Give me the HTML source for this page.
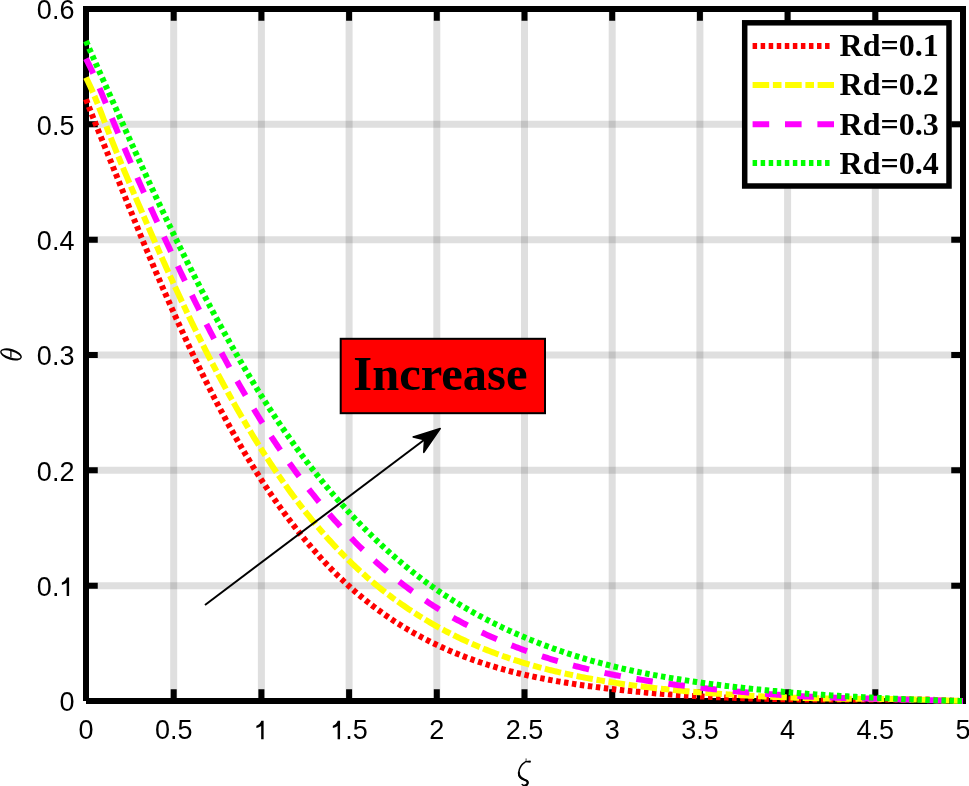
<!DOCTYPE html>
<html><head><meta charset="utf-8"><style>
html,body{margin:0;padding:0;background:#fff;}
svg{display:block;will-change:transform;}
</style></head><body>
<svg width="969" height="786" viewBox="0 0 969 786">
<rect x="0" y="0" width="969" height="786" fill="#fff"/>
<g stroke="rgb(38,38,38)" stroke-opacity="0.15" stroke-width="7"><line x1="173.70" y1="9.0" x2="173.70" y2="701.0"/><line x1="261.40" y1="9.0" x2="261.40" y2="701.0"/><line x1="349.10" y1="9.0" x2="349.10" y2="701.0"/><line x1="436.80" y1="9.0" x2="436.80" y2="701.0"/><line x1="524.50" y1="9.0" x2="524.50" y2="701.0"/><line x1="612.20" y1="9.0" x2="612.20" y2="701.0"/><line x1="699.90" y1="9.0" x2="699.90" y2="701.0"/><line x1="787.60" y1="9.0" x2="787.60" y2="701.0"/><line x1="875.30" y1="9.0" x2="875.30" y2="701.0"/><line x1="86.0" y1="585.67" x2="963.0" y2="585.67"/><line x1="86.0" y1="470.33" x2="963.0" y2="470.33"/><line x1="86.0" y1="355.00" x2="963.0" y2="355.00"/><line x1="86.0" y1="239.67" x2="963.0" y2="239.67"/><line x1="86.0" y1="124.33" x2="963.0" y2="124.33"/></g>
<path d="M86.00,701.0V689.25M86.00,9.0V20.75M173.70,701.0V689.25M173.70,9.0V20.75M261.40,701.0V689.25M261.40,9.0V20.75M349.10,701.0V689.25M349.10,9.0V20.75M436.80,701.0V689.25M436.80,9.0V20.75M524.50,701.0V689.25M524.50,9.0V20.75M612.20,701.0V689.25M612.20,9.0V20.75M699.90,701.0V689.25M699.90,9.0V20.75M787.60,701.0V689.25M787.60,9.0V20.75M875.30,701.0V689.25M875.30,9.0V20.75M963.00,701.0V689.25M963.00,9.0V20.75M86.0,701.00H97.75M963.0,701.00H951.25M86.0,585.67H97.75M963.0,585.67H951.25M86.0,470.33H97.75M963.0,470.33H951.25M86.0,355.00H97.75M963.0,355.00H951.25M86.0,239.67H97.75M963.0,239.67H951.25M86.0,124.33H97.75M963.0,124.33H951.25M86.0,9.00H97.75M963.0,9.00H951.25" stroke="#000" stroke-width="6" stroke-linecap="butt" fill="none"/>
<path d="M86.0,701.0H963.0V9.0H86.0V701.0" fill="none" stroke="#000" stroke-width="6" stroke-linejoin="miter" stroke-linecap="butt"/>
<g font-family="Liberation Sans" font-size="27" fill="#000"><text x="78.49" y="739.30">0</text><text x="154.93" y="739.30">0.5</text><text x="345.35" y="739.30">.5</text><text x="429.29" y="739.30">2</text><text x="505.73" y="739.30">2.5</text><text x="604.69" y="739.30">3</text><text x="681.13" y="739.30">3.5</text><text x="780.09" y="739.30">4</text><text x="856.53" y="739.30">4.5</text><text x="955.49" y="739.30">5</text><text x="59.38" y="711.40">0</text><text x="36.87" y="596.07">0.</text><text x="36.87" y="480.73">0.2</text><text x="36.87" y="365.40">0.3</text><text x="36.87" y="250.07">0.4</text><text x="36.87" y="134.73">0.5</text><text x="36.87" y="19.40">0.6</text></g>
<path d="M263.62,720.72L263.62,739.30L261.17,739.30L261.17,726.02Q259.19,727.62 256.39,728.12L256.39,725.82Q259.79,724.72 261.37,720.72ZM340.06,720.72L340.06,739.30L337.61,739.30L337.61,726.02Q335.63,727.62 332.83,728.12L332.83,725.82Q336.23,724.72 337.81,720.72ZM69.11,577.49L69.11,596.07L66.66,596.07L66.66,582.79Q64.68,584.39 61.88,584.89L61.88,582.59Q65.28,581.49 66.86,577.49Z" fill="#000"/>
<g fill="none" stroke="#000" stroke-linecap="round"><path d="M525.8,761.6 C522.6,763.4 519.3,767.3 518.8,772.3 C518.4,776.4 520.6,778.6 524.5,779.7 C527.2,780.5 528,782 527.6,783.4 C527.1,784.9 525.4,785.9 523.4,785.4 L522.2,784.5" stroke-width="1.5"/><path d="M518.9,772.5 C518.6,776.2 520.3,778.2 524.5,779.7 C527.2,780.5 528,782 527.6,783.4 C527.2,784.6 526.2,785.4 525.2,785.6" stroke-width="2.1"/><path d="M526.1,758.8 L526.1,760.4" stroke-width="1.1" stroke="#555"/></g><path d="M525.9,760.9 L530.4,760.6 Q531.5,761.7 530.4,762.7 L525.9,762.2 Z" fill="#000"/>
<path d="M-0.20,354.4A11.2,5.45 0 1,0 22.20,354.4A11.2,5.45 0 1,0 -0.20,354.4ZM1.10,354.4A9.9,3.0 0 1,0 20.90,354.4A9.9,3.0 0 1,0 1.10,354.4Z" fill="#000" fill-rule="evenodd" transform="rotate(17 11.0 354.4)"/><path d="M10.9,350.4V357.3" stroke="#000" stroke-width="1.3"/>
<polyline points="86.00,99.20 87.75,103.80 89.51,108.35 91.26,112.85 93.02,117.31 94.77,121.74 96.52,126.14 98.28,130.51 100.03,134.87 101.79,139.21 103.54,143.54 105.29,147.87 107.05,152.19 108.80,156.53 110.56,160.87 112.31,165.22 114.06,169.58 115.82,173.94 117.57,178.31 119.33,182.69 121.08,187.06 122.83,191.44 124.59,195.81 126.34,200.18 128.10,204.54 129.85,208.89 131.60,213.24 133.36,217.57 135.11,221.89 136.87,226.20 138.62,230.50 140.37,234.77 142.13,239.03 143.88,243.27 145.64,247.50 147.39,251.71 149.14,255.90 150.90,260.07 152.65,264.22 154.41,268.35 156.16,272.47 157.91,276.57 159.67,280.65 161.42,284.71 163.18,288.76 164.93,292.79 166.68,296.79 168.44,300.78 170.19,304.75 171.95,308.70 173.70,312.63 175.45,316.55 177.21,320.44 178.96,324.32 180.72,328.17 182.47,332.01 184.22,335.83 185.98,339.62 187.73,343.40 189.49,347.15 191.24,350.89 192.99,354.60 194.75,358.29 196.50,361.95 198.26,365.60 200.01,369.21 201.76,372.81 203.52,376.38 205.27,379.93 207.03,383.46 208.78,386.96 210.53,390.43 212.29,393.88 214.04,397.30 215.80,400.70 217.55,404.07 219.30,407.42 221.06,410.74 222.81,414.04 224.57,417.30 226.32,420.55 228.07,423.76 229.83,426.95 231.58,430.11 233.34,433.25 235.09,436.35 236.84,439.44 238.60,442.49 240.35,445.52 242.11,448.52 243.86,451.50 245.61,454.45 247.37,457.37 249.12,460.27 250.88,463.15 252.63,465.99 254.38,468.81 256.14,471.61 257.89,474.38 259.65,477.13 261.40,479.85 263.15,482.54 264.91,485.21 266.66,487.86 268.42,490.48 270.17,493.08 271.92,495.65 273.68,498.20 275.43,500.72 277.19,503.22 278.94,505.69 280.69,508.15 282.45,510.57 284.20,512.98 285.96,515.36 287.71,517.72 289.46,520.05 291.22,522.36 292.97,524.65 294.73,526.92 296.48,529.16 298.23,531.38 299.99,533.58 301.74,535.75 303.50,537.90 305.25,540.03 307.00,542.14 308.76,544.22 310.51,546.29 312.27,548.33 314.02,550.34 315.77,552.34 317.53,554.31 319.28,556.26 321.04,558.19 322.79,560.10 324.54,561.99 326.30,563.85 328.05,565.70 329.81,567.52 331.56,569.32 333.31,571.10 335.07,572.86 336.82,574.60 338.58,576.32 340.33,578.01 342.08,579.69 343.84,581.35 345.59,582.99 347.35,584.60 349.10,586.20 350.85,587.78 352.61,589.34 354.36,590.88 356.12,592.40 357.87,593.90 359.62,595.38 361.38,596.85 363.13,598.29 364.89,599.72 366.64,601.13 368.39,602.52 370.15,603.90 371.90,605.25 373.66,606.59 375.41,607.91 377.16,609.22 378.92,610.51 380.67,611.78 382.43,613.04 384.18,614.28 385.93,615.50 387.69,616.71 389.44,617.90 391.20,619.08 392.95,620.24 394.70,621.39 396.46,622.52 398.21,623.64 399.97,624.75 401.72,625.84 403.47,626.91 405.23,627.97 406.98,629.02 408.74,630.05 410.49,631.08 412.24,632.08 414.00,633.08 415.75,634.06 417.51,635.03 419.26,635.98 421.01,636.93 422.77,637.86 424.52,638.78 426.28,639.68 428.03,640.58 429.78,641.46 431.54,642.33 433.29,643.19 435.05,644.04 436.80,644.88 438.55,645.70 440.31,646.52 442.06,647.32 443.82,648.12 445.57,648.90 447.32,649.67 449.08,650.43 450.83,651.18 452.59,651.92 454.34,652.66 456.09,653.38 457.85,654.09 459.60,654.79 461.36,655.48 463.11,656.16 464.86,656.83 466.62,657.50 468.37,658.15 470.13,658.79 471.88,659.43 473.63,660.05 475.39,660.67 477.14,661.28 478.90,661.88 480.65,662.47 482.40,663.05 484.16,663.62 485.91,664.19 487.67,664.75 489.42,665.30 491.17,665.84 492.93,666.37 494.68,666.89 496.44,667.41 498.19,667.92 499.94,668.42 501.70,668.92 503.45,669.40 505.21,669.88 506.96,670.35 508.71,670.82 510.47,671.28 512.22,671.73 513.98,672.17 515.73,672.61 517.48,673.04 519.24,673.46 520.99,673.88 522.75,674.29 524.50,674.70 526.25,675.10 528.01,675.49 529.76,675.88 531.52,676.26 533.27,676.63 535.02,677.00 536.78,677.36 538.53,677.72 540.29,678.07 542.04,678.42 543.79,678.76 545.55,679.10 547.30,679.43 549.06,679.76 550.81,680.08 552.56,680.40 554.32,680.71 556.07,681.02 557.83,681.33 559.58,681.63 561.33,681.92 563.09,682.22 564.84,682.50 566.60,682.79 568.35,683.07 570.10,683.35 571.86,683.62 573.61,683.89 575.37,684.16 577.12,684.42 578.87,684.68 580.63,684.93 582.38,685.19 584.14,685.44 585.89,685.68 587.64,685.93 589.40,686.17 591.15,686.40 592.91,686.64 594.66,686.87 596.41,687.10 598.17,687.32 599.92,687.55 601.68,687.77 603.43,687.98 605.18,688.20 606.94,688.41 608.69,688.62 610.45,688.83 612.20,689.03 613.95,689.23 615.71,689.43 617.46,689.63 619.22,689.83 620.97,690.02 622.72,690.21 624.48,690.40 626.23,690.58 627.99,690.77 629.74,690.95 631.49,691.13 633.25,691.30 635.00,691.48 636.76,691.65 638.51,691.82 640.26,691.99 642.02,692.16 643.77,692.32 645.53,692.48 647.28,692.64 649.03,692.80 650.79,692.95 652.54,693.10 654.30,693.25 656.05,693.40 657.80,693.54 659.56,693.69 661.31,693.83 663.07,693.97 664.82,694.10 666.57,694.24 668.33,694.37 670.08,694.50 671.84,694.63 673.59,694.75 675.34,694.87 677.10,695.00 678.85,695.11 680.61,695.23 682.36,695.35 684.11,695.46 685.87,695.57 687.62,695.68 689.38,695.78 691.13,695.89 692.88,695.99 694.64,696.09 696.39,696.19 698.15,696.29 699.90,696.38 701.65,696.48 703.41,696.57 705.16,696.66 706.92,696.75 708.67,696.83 710.42,696.92 712.18,697.00 713.93,697.08 715.69,697.16 717.44,697.24 719.19,697.31 720.95,697.39 722.70,697.46 724.46,697.53 726.21,697.60 727.96,697.67 729.72,697.74 731.47,697.81 733.23,697.87 734.98,697.93 736.73,698.00 738.49,698.06 740.24,698.12 742.00,698.17 743.75,698.23 745.50,698.28 747.26,698.34 749.01,698.39 750.77,698.44 752.52,698.49 754.27,698.54 756.03,698.59 757.78,698.64 759.54,698.68 761.29,698.72 763.04,698.77 764.80,698.81 766.55,698.85 768.31,698.89 770.06,698.93 771.81,698.96 773.57,699.00 775.32,699.03 777.08,699.07 778.83,699.10 780.58,699.13 782.34,699.16 784.09,699.19 785.85,699.21 787.60,699.24 789.35,699.27 791.11,699.29 792.86,699.31 794.62,699.33 796.37,699.36 798.12,699.38 799.88,699.39 801.63,699.41 803.39,699.43 805.14,699.44 806.89,699.46 808.65,699.47 810.40,699.48 812.16,699.50 813.91,699.51 815.66,699.52 817.42,699.52 819.17,699.53 820.93,699.54 822.68,699.54 824.43,699.55 826.19,699.55 827.94,699.55 829.70,699.55 831.45,699.55 833.20,699.55 834.96,699.55 836.71,699.55 838.47,699.55 840.22,699.55 841.97,699.55 843.73,699.55 845.48,699.55 847.24,699.55 848.99,699.55 850.74,699.55 852.50,699.55 854.25,699.55 856.01,699.55 857.76,699.55 859.51,699.55 861.27,699.55 863.02,699.55 864.78,699.55 866.53,699.55 868.28,699.55 870.04,699.55 871.79,699.55 873.55,699.55 875.30,699.55 877.05,699.55 878.81,699.55 880.56,699.55 882.32,699.55 884.07,699.55 885.82,699.55 887.58,699.55 889.33,699.55 891.09,699.55 892.84,699.55 894.59,699.55 896.35,699.55 898.10,699.55 899.86,699.55 901.61,699.55 903.36,699.55 905.12,699.55 906.87,699.55 908.63,699.55 910.38,699.55 912.13,699.55 913.89,699.55 915.64,699.55 917.40,699.55 919.15,699.55 920.90,699.55 922.66,699.55 924.41,699.55 926.17,699.55 927.92,699.59 929.67,699.66 931.43,699.73 933.18,699.80 934.94,699.88 936.69,699.95 938.44,700.03 940.20,700.11 941.95,700.19 943.71,700.26 945.46,700.34 947.21,700.42 948.97,700.49 950.72,700.56 952.48,700.63 954.23,700.70 955.98,700.77 957.74,700.83 959.49,700.89 961.25,700.95 963.00,701.00" fill="none" stroke="#ff0000" stroke-width="6" stroke-dasharray="4.5 3.55" stroke-linecap="butt" stroke-linejoin="round"/>
<polyline points="86.00,77.52 87.75,81.01 89.51,84.71 91.26,88.59 93.02,92.63 94.77,96.80 96.52,101.08 98.28,105.46 100.03,109.92 101.79,114.42 103.54,118.96 105.29,123.51 107.05,128.06 108.80,132.59 110.56,137.09 112.31,141.53 114.06,145.93 115.82,150.28 117.57,154.60 119.33,158.88 121.08,163.13 122.83,167.35 124.59,171.54 126.34,175.71 128.10,179.86 129.85,183.99 131.60,188.10 133.36,192.19 135.11,196.28 136.87,200.35 138.62,204.42 140.37,208.49 142.13,212.55 143.88,216.60 145.64,220.65 147.39,224.69 149.14,228.72 150.90,232.75 152.65,236.77 154.41,240.77 156.16,244.77 157.91,248.75 159.67,252.72 161.42,256.68 163.18,260.62 164.93,264.55 166.68,268.46 168.44,272.36 170.19,276.24 171.95,280.10 173.70,283.94 175.45,287.77 177.21,291.57 178.96,295.36 180.72,299.13 182.47,302.87 184.22,306.59 185.98,310.30 187.73,313.98 189.49,317.64 191.24,321.28 192.99,324.90 194.75,328.50 196.50,332.08 198.26,335.63 200.01,339.17 201.76,342.68 203.52,346.17 205.27,349.64 207.03,353.09 208.78,356.52 210.53,359.93 212.29,363.31 214.04,366.68 215.80,370.02 217.55,373.34 219.30,376.64 221.06,379.92 222.81,383.17 224.57,386.41 226.32,389.62 228.07,392.81 229.83,395.98 231.58,399.13 233.34,402.26 235.09,405.36 236.84,408.44 238.60,411.51 240.35,414.55 242.11,417.56 243.86,420.56 245.61,423.53 247.37,426.48 249.12,429.41 250.88,432.32 252.63,435.21 254.38,438.07 256.14,440.91 257.89,443.73 259.65,446.53 261.40,449.30 263.15,452.06 264.91,454.79 266.66,457.50 268.42,460.18 270.17,462.85 271.92,465.49 273.68,468.11 275.43,470.71 277.19,473.29 278.94,475.84 280.69,478.38 282.45,480.89 284.20,483.38 285.96,485.85 287.71,488.29 289.46,490.72 291.22,493.12 292.97,495.50 294.73,497.86 296.48,500.20 298.23,502.52 299.99,504.81 301.74,507.09 303.50,509.34 305.25,511.57 307.00,513.78 308.76,515.97 310.51,518.14 312.27,520.29 314.02,522.42 315.77,524.52 317.53,526.61 319.28,528.67 321.04,530.71 322.79,532.74 324.54,534.74 326.30,536.72 328.05,538.68 329.81,540.62 331.56,542.55 333.31,544.45 335.07,546.33 336.82,548.19 338.58,550.03 340.33,551.85 342.08,553.65 343.84,555.44 345.59,557.20 347.35,558.95 349.10,560.67 350.85,562.38 352.61,564.07 354.36,565.74 356.12,567.39 357.87,569.02 359.62,570.63 361.38,572.23 363.13,573.80 364.89,575.36 366.64,576.91 368.39,578.43 370.15,579.94 371.90,581.43 373.66,582.90 375.41,584.36 377.16,585.80 378.92,587.23 380.67,588.64 382.43,590.03 384.18,591.41 385.93,592.77 387.69,594.12 389.44,595.45 391.20,596.77 392.95,598.07 394.70,599.36 396.46,600.63 398.21,601.89 399.97,603.13 401.72,604.36 403.47,605.58 405.23,606.79 406.98,607.98 408.74,609.15 410.49,610.32 412.24,611.47 414.00,612.61 415.75,613.73 417.51,614.84 419.26,615.95 421.01,617.03 422.77,618.11 424.52,619.17 426.28,620.22 428.03,621.27 429.78,622.29 431.54,623.31 433.29,624.32 435.05,625.31 436.80,626.29 438.55,627.27 440.31,628.23 442.06,629.18 443.82,630.12 445.57,631.05 447.32,631.97 449.08,632.87 450.83,633.77 452.59,634.66 454.34,635.54 456.09,636.40 457.85,637.26 459.60,638.11 461.36,638.94 463.11,639.77 464.86,640.59 466.62,641.39 468.37,642.19 470.13,642.98 471.88,643.76 473.63,644.53 475.39,645.28 477.14,646.04 478.90,646.78 480.65,647.51 482.40,648.23 484.16,648.95 485.91,649.65 487.67,650.35 489.42,651.03 491.17,651.71 492.93,652.38 494.68,653.05 496.44,653.70 498.19,654.35 499.94,654.98 501.70,655.61 503.45,656.23 505.21,656.85 506.96,657.45 508.71,658.05 510.47,658.64 512.22,659.22 513.98,659.80 515.73,660.36 517.48,660.92 519.24,661.47 520.99,662.02 522.75,662.56 524.50,663.09 526.25,663.61 528.01,664.13 529.76,664.64 531.52,665.14 533.27,665.64 535.02,666.13 536.78,666.61 538.53,667.09 540.29,667.56 542.04,668.02 543.79,668.48 545.55,668.93 547.30,669.38 549.06,669.82 550.81,670.25 552.56,670.68 554.32,671.10 556.07,671.52 557.83,671.93 559.58,672.34 561.33,672.74 563.09,673.14 564.84,673.53 566.60,673.91 568.35,674.29 570.10,674.67 571.86,675.04 573.61,675.41 575.37,675.77 577.12,676.12 578.87,676.47 580.63,676.82 582.38,677.16 584.14,677.50 585.89,677.83 587.64,678.16 589.40,678.49 591.15,678.81 592.91,679.13 594.66,679.44 596.41,679.75 598.17,680.05 599.92,680.35 601.68,680.65 603.43,680.94 605.18,681.23 606.94,681.51 608.69,681.79 610.45,682.07 612.20,682.35 613.95,682.62 615.71,682.88 617.46,683.15 619.22,683.41 620.97,683.66 622.72,683.92 624.48,684.17 626.23,684.41 627.99,684.66 629.74,684.90 631.49,685.13 633.25,685.37 635.00,685.60 636.76,685.83 638.51,686.05 640.26,686.27 642.02,686.49 643.77,686.71 645.53,686.92 647.28,687.13 649.03,687.34 650.79,687.55 652.54,687.75 654.30,687.95 656.05,688.15 657.80,688.34 659.56,688.53 661.31,688.72 663.07,688.91 664.82,689.10 666.57,689.28 668.33,689.46 670.08,689.64 671.84,689.81 673.59,689.99 675.34,690.16 677.10,690.33 678.85,690.50 680.61,690.66 682.36,690.82 684.11,690.99 685.87,691.14 687.62,691.30 689.38,691.46 691.13,691.61 692.88,691.76 694.64,691.91 696.39,692.05 698.15,692.20 699.90,692.34 701.65,692.48 703.41,692.62 705.16,692.76 706.92,692.90 708.67,693.03 710.42,693.16 712.18,693.30 713.93,693.42 715.69,693.55 717.44,693.68 719.19,693.80 720.95,693.92 722.70,694.04 724.46,694.16 726.21,694.28 727.96,694.40 729.72,694.51 731.47,694.63 733.23,694.74 734.98,694.85 736.73,694.96 738.49,695.06 740.24,695.17 742.00,695.27 743.75,695.38 745.50,695.48 747.26,695.58 749.01,695.68 750.77,695.77 752.52,695.87 754.27,695.96 756.03,696.06 757.78,696.15 759.54,696.23 761.29,696.32 763.04,696.41 764.80,696.49 766.55,696.57 768.31,696.65 770.06,696.73 771.81,696.81 773.57,696.89 775.32,696.96 777.08,697.03 778.83,697.10 780.58,697.17 782.34,697.24 784.09,697.31 785.85,697.37 787.60,697.43 789.35,697.50 791.11,697.56 792.86,697.61 794.62,697.67 796.37,697.73 798.12,697.78 799.88,697.83 801.63,697.88 803.39,697.93 805.14,697.98 806.89,698.03 808.65,698.07 810.40,698.11 812.16,698.16 813.91,698.20 815.66,698.24 817.42,698.27 819.17,698.31 820.93,698.35 822.68,698.38 824.43,698.41 826.19,698.44 827.94,698.47 829.70,698.50 831.45,698.53 833.20,698.56 834.96,698.58 836.71,698.61 838.47,698.63 840.22,698.65 841.97,698.67 843.73,698.69 845.48,698.71 847.24,698.72 848.99,698.74 850.74,698.75 852.50,698.76 854.25,698.78 856.01,698.79 857.76,698.80 859.51,698.81 861.27,698.82 863.02,698.83 864.78,698.83 866.53,698.84 868.28,698.85 870.04,698.86 871.79,698.87 873.55,698.88 875.30,698.89 877.05,698.90 878.81,698.91 880.56,698.93 882.32,698.94 884.07,698.96 885.82,698.97 887.58,698.99 889.33,699.01 891.09,699.03 892.84,699.06 894.59,699.08 896.35,699.11 898.10,699.14 899.86,699.17 901.61,699.20 903.36,699.24 905.12,699.27 906.87,699.31 908.63,699.35 910.38,699.39 912.13,699.44 913.89,699.48 915.64,699.53 917.40,699.58 919.15,699.63 920.90,699.68 922.66,699.74 924.41,699.79 926.17,699.85 927.92,699.91 929.67,699.97 931.43,700.02 933.18,700.08 934.94,700.14 936.69,700.20 938.44,700.26 940.20,700.32 941.95,700.38 943.71,700.44 945.46,700.50 947.21,700.55 948.97,700.61 950.72,700.66 952.48,700.72 954.23,700.77 955.98,700.82 957.74,700.87 959.49,700.91 961.25,700.96 963.00,701.00" fill="none" stroke="#ffff00" stroke-width="6" stroke-dasharray="16.6 3.7 8.6 3.6" stroke-linecap="butt" stroke-linejoin="round"/>
<polyline points="86.00,58.65 87.75,62.05 89.51,65.60 91.26,69.29 93.02,73.11 94.77,77.04 96.52,81.07 98.28,85.17 100.03,89.34 101.79,93.56 103.54,97.81 105.29,102.09 107.05,106.39 108.80,110.68 110.56,114.95 112.31,119.20 114.06,123.43 115.82,127.64 117.57,131.83 119.33,136.00 121.08,140.15 122.83,144.28 124.59,148.40 126.34,152.49 128.10,156.57 129.85,160.63 131.60,164.67 133.36,168.70 135.11,172.71 136.87,176.71 138.62,180.69 140.37,184.66 142.13,188.62 143.88,192.56 145.64,196.49 147.39,200.40 149.14,204.30 150.90,208.19 152.65,212.06 154.41,215.92 156.16,219.77 157.91,223.60 159.67,227.42 161.42,231.23 163.18,235.02 164.93,238.80 166.68,242.56 168.44,246.32 170.19,250.06 171.95,253.78 173.70,257.50 175.45,261.20 177.21,264.88 178.96,268.56 180.72,272.22 182.47,275.86 184.22,279.49 185.98,283.11 187.73,286.72 189.49,290.30 191.24,293.88 192.99,297.43 194.75,300.98 196.50,304.50 198.26,308.01 200.01,311.50 201.76,314.97 203.52,318.43 205.27,321.87 207.03,325.29 208.78,328.69 210.53,332.07 212.29,335.43 214.04,338.78 215.80,342.10 217.55,345.41 219.30,348.69 221.06,351.96 222.81,355.21 224.57,358.43 226.32,361.63 228.07,364.82 229.83,367.98 231.58,371.12 233.34,374.24 235.09,377.34 236.84,380.42 238.60,383.48 240.35,386.51 242.11,389.53 243.86,392.52 245.61,395.50 247.37,398.45 249.12,401.38 250.88,404.29 252.63,407.18 254.38,410.05 256.14,412.90 257.89,415.73 259.65,418.54 261.40,421.33 263.15,424.09 264.91,426.84 266.66,429.57 268.42,432.27 270.17,434.96 271.92,437.62 273.68,440.27 275.43,442.90 277.19,445.50 278.94,448.09 280.69,450.65 282.45,453.20 284.20,455.73 285.96,458.23 287.71,460.72 289.46,463.19 291.22,465.63 292.97,468.06 294.73,470.47 296.48,472.86 298.23,475.23 299.99,477.58 301.74,479.92 303.50,482.23 305.25,484.52 307.00,486.80 308.76,489.05 310.51,491.29 312.27,493.51 314.02,495.71 315.77,497.89 317.53,500.05 319.28,502.19 321.04,504.32 322.79,506.42 324.54,508.51 326.30,510.58 328.05,512.63 329.81,514.66 331.56,516.68 333.31,518.67 335.07,520.65 336.82,522.61 338.58,524.55 340.33,526.48 342.08,528.39 343.84,530.28 345.59,532.15 347.35,534.00 349.10,535.84 350.85,537.66 352.61,539.46 354.36,541.25 356.12,543.02 357.87,544.77 359.62,546.51 361.38,548.23 363.13,549.93 364.89,551.62 366.64,553.29 368.39,554.94 370.15,556.58 371.90,558.20 373.66,559.80 375.41,561.39 377.16,562.97 378.92,564.53 380.67,566.07 382.43,567.60 384.18,569.11 385.93,570.61 387.69,572.09 389.44,573.56 391.20,575.01 392.95,576.45 394.70,577.87 396.46,579.28 398.21,580.67 399.97,582.05 401.72,583.42 403.47,584.77 405.23,586.10 406.98,587.43 408.74,588.74 410.49,590.03 412.24,591.32 414.00,592.58 415.75,593.84 417.51,595.08 419.26,596.31 421.01,597.53 422.77,598.73 424.52,599.92 426.28,601.10 428.03,602.26 429.78,603.42 431.54,604.56 433.29,605.68 435.05,606.80 436.80,607.90 438.55,608.99 440.31,610.07 442.06,611.14 443.82,612.20 445.57,613.24 447.32,614.28 449.08,615.30 450.83,616.31 452.59,617.31 454.34,618.30 456.09,619.28 457.85,620.25 459.60,621.20 461.36,622.15 463.11,623.09 464.86,624.01 466.62,624.93 468.37,625.84 470.13,626.73 471.88,627.62 473.63,628.50 475.39,629.37 477.14,630.23 478.90,631.08 480.65,631.92 482.40,632.75 484.16,633.57 485.91,634.38 487.67,635.19 489.42,635.98 491.17,636.77 492.93,637.55 494.68,638.32 496.44,639.09 498.19,639.84 499.94,640.59 501.70,641.32 503.45,642.05 505.21,642.78 506.96,643.49 508.71,644.20 510.47,644.90 512.22,645.59 513.98,646.27 515.73,646.95 517.48,647.62 519.24,648.28 520.99,648.94 522.75,649.59 524.50,650.23 526.25,650.86 528.01,651.49 529.76,652.11 531.52,652.73 533.27,653.33 535.02,653.94 536.78,654.53 538.53,655.12 540.29,655.70 542.04,656.27 543.79,656.84 545.55,657.40 547.30,657.96 549.06,658.51 550.81,659.05 552.56,659.59 554.32,660.12 556.07,660.65 557.83,661.16 559.58,661.68 561.33,662.18 563.09,662.69 564.84,663.18 566.60,663.67 568.35,664.15 570.10,664.63 571.86,665.10 573.61,665.57 575.37,666.03 577.12,666.48 578.87,666.93 580.63,667.38 582.38,667.82 584.14,668.25 585.89,668.68 587.64,669.10 589.40,669.52 591.15,669.93 592.91,670.34 594.66,670.74 596.41,671.14 598.17,671.53 599.92,671.92 601.68,672.30 603.43,672.68 605.18,673.06 606.94,673.42 608.69,673.79 610.45,674.15 612.20,674.50 613.95,674.85 615.71,675.20 617.46,675.54 619.22,675.87 620.97,676.21 622.72,676.54 624.48,676.86 626.23,677.18 627.99,677.49 629.74,677.81 631.49,678.11 633.25,678.42 635.00,678.72 636.76,679.01 638.51,679.30 640.26,679.59 642.02,679.88 643.77,680.16 645.53,680.44 647.28,680.71 649.03,680.98 650.79,681.25 652.54,681.51 654.30,681.78 656.05,682.03 657.80,682.29 659.56,682.54 661.31,682.79 663.07,683.04 664.82,683.29 666.57,683.53 668.33,683.77 670.08,684.01 671.84,684.24 673.59,684.47 675.34,684.70 677.10,684.93 678.85,685.15 680.61,685.38 682.36,685.60 684.11,685.81 685.87,686.03 687.62,686.24 689.38,686.46 691.13,686.66 692.88,686.87 694.64,687.08 696.39,687.28 698.15,687.48 699.90,687.68 701.65,687.88 703.41,688.08 705.16,688.27 706.92,688.46 708.67,688.65 710.42,688.84 712.18,689.03 713.93,689.21 715.69,689.39 717.44,689.58 719.19,689.76 720.95,689.93 722.70,690.11 724.46,690.28 726.21,690.46 727.96,690.63 729.72,690.80 731.47,690.97 733.23,691.13 734.98,691.30 736.73,691.46 738.49,691.62 740.24,691.78 742.00,691.94 743.75,692.10 745.50,692.25 747.26,692.40 749.01,692.56 750.77,692.71 752.52,692.85 754.27,693.00 756.03,693.14 757.78,693.29 759.54,693.43 761.29,693.57 763.04,693.70 764.80,693.84 766.55,693.97 768.31,694.10 770.06,694.23 771.81,694.36 773.57,694.48 775.32,694.60 777.08,694.72 778.83,694.84 780.58,694.96 782.34,695.08 784.09,695.19 785.85,695.30 787.60,695.41 789.35,695.51 791.11,695.62 792.86,695.72 794.62,695.82 796.37,695.92 798.12,696.02 799.88,696.11 801.63,696.21 803.39,696.30 805.14,696.39 806.89,696.48 808.65,696.56 810.40,696.65 812.16,696.73 813.91,696.81 815.66,696.89 817.42,696.97 819.17,697.04 820.93,697.12 822.68,697.19 824.43,697.26 826.19,697.33 827.94,697.40 829.70,697.47 831.45,697.53 833.20,697.59 834.96,697.66 836.71,697.72 838.47,697.78 840.22,697.83 841.97,697.89 843.73,697.94 845.48,698.00 847.24,698.05 848.99,698.10 850.74,698.15 852.50,698.20 854.25,698.25 856.01,698.29 857.76,698.34 859.51,698.38 861.27,698.43 863.02,698.47 864.78,698.51 866.53,698.56 868.28,698.60 870.04,698.64 871.79,698.68 873.55,698.72 875.30,698.77 877.05,698.81 878.81,698.85 880.56,698.89 882.32,698.94 884.07,698.98 885.82,699.02 887.58,699.06 889.33,699.11 891.09,699.15 892.84,699.20 894.59,699.24 896.35,699.29 898.10,699.33 899.86,699.38 901.61,699.43 903.36,699.47 905.12,699.52 906.87,699.57 908.63,699.62 910.38,699.66 912.13,699.71 913.89,699.76 915.64,699.81 917.40,699.86 919.15,699.91 920.90,699.96 922.66,700.01 924.41,700.06 926.17,700.11 927.92,700.16 929.67,700.20 931.43,700.25 933.18,700.30 934.94,700.35 936.69,700.39 938.44,700.44 940.20,700.49 941.95,700.53 943.71,700.58 945.46,700.62 947.21,700.66 948.97,700.70 950.72,700.75 952.48,700.79 954.23,700.82 955.98,700.86 957.74,700.90 959.49,700.93 961.25,700.97 963.00,701.00" fill="none" stroke="#ff00ff" stroke-width="6" stroke-dasharray="16.6 15.8" stroke-linecap="butt" stroke-linejoin="round"/>
<polyline points="86.00,40.99 87.75,45.05 89.51,49.09 91.26,53.11 93.02,57.12 94.77,61.10 96.52,65.07 98.28,69.03 100.03,72.98 101.79,76.92 103.54,80.85 105.29,84.78 107.05,88.71 108.80,92.64 110.56,96.56 112.31,100.50 114.06,104.43 115.82,108.36 117.57,112.30 119.33,116.23 121.08,120.16 122.83,124.09 124.59,128.01 126.34,131.93 128.10,135.85 129.85,139.76 131.60,143.67 133.36,147.56 135.11,151.45 136.87,155.34 138.62,159.21 140.37,163.07 142.13,166.93 143.88,170.77 145.64,174.61 147.39,178.43 149.14,182.24 150.90,186.04 152.65,189.83 154.41,193.61 156.16,197.37 157.91,201.13 159.67,204.87 161.42,208.60 163.18,212.31 164.93,216.02 166.68,219.71 168.44,223.39 170.19,227.05 171.95,230.70 173.70,234.34 175.45,237.96 177.21,241.57 178.96,245.17 180.72,248.75 182.47,252.31 184.22,255.86 185.98,259.40 187.73,262.92 189.49,266.43 191.24,269.92 192.99,273.40 194.75,276.86 196.50,280.30 198.26,283.73 200.01,287.14 201.76,290.54 203.52,293.92 205.27,297.29 207.03,300.64 208.78,303.97 210.53,307.28 212.29,310.58 214.04,313.86 215.80,317.13 217.55,320.38 219.30,323.61 221.06,326.82 222.81,330.02 224.57,333.20 226.32,336.36 228.07,339.51 229.83,342.64 231.58,345.75 233.34,348.84 235.09,351.92 236.84,354.97 238.60,358.01 240.35,361.04 242.11,364.04 243.86,367.02 245.61,369.99 247.37,372.94 249.12,375.87 250.88,378.78 252.63,381.67 254.38,384.55 256.14,387.40 257.89,390.24 259.65,393.06 261.40,395.86 263.15,398.64 264.91,401.40 266.66,404.14 268.42,406.87 270.17,409.57 271.92,412.26 273.68,414.93 275.43,417.57 277.19,420.20 278.94,422.81 280.69,425.40 282.45,427.98 284.20,430.53 285.96,433.06 287.71,435.58 289.46,438.07 291.22,440.55 292.97,443.01 294.73,445.45 296.48,447.87 298.23,450.27 299.99,452.65 301.74,455.02 303.50,457.37 305.25,459.70 307.00,462.01 308.76,464.30 310.51,466.58 312.27,468.84 314.02,471.08 315.77,473.30 317.53,475.51 319.28,477.70 321.04,479.87 322.79,482.03 324.54,484.16 326.30,486.29 328.05,488.39 329.81,490.48 331.56,492.56 333.31,494.61 335.07,496.65 336.82,498.68 338.58,500.69 340.33,502.68 342.08,504.66 343.84,506.62 345.59,508.56 347.35,510.49 349.10,512.41 350.85,514.31 352.61,516.19 354.36,518.06 356.12,519.92 357.87,521.76 359.62,523.58 361.38,525.40 363.13,527.19 364.89,528.97 366.64,530.74 368.39,532.49 370.15,534.23 371.90,535.95 373.66,537.66 375.41,539.36 377.16,541.03 378.92,542.70 380.67,544.35 382.43,545.99 384.18,547.61 385.93,549.21 387.69,550.81 389.44,552.39 391.20,553.95 392.95,555.50 394.70,557.04 396.46,558.56 398.21,560.07 399.97,561.56 401.72,563.04 403.47,564.51 405.23,565.96 406.98,567.40 408.74,568.82 410.49,570.23 412.24,571.63 414.00,573.02 415.75,574.39 417.51,575.74 419.26,577.09 421.01,578.42 422.77,579.74 424.52,581.04 426.28,582.33 428.03,583.61 429.78,584.88 431.54,586.13 433.29,587.37 435.05,588.60 436.80,589.81 438.55,591.01 440.31,592.20 442.06,593.38 443.82,594.55 445.57,595.70 447.32,596.84 449.08,597.97 450.83,599.09 452.59,600.20 454.34,601.29 456.09,602.38 457.85,603.45 459.60,604.51 461.36,605.57 463.11,606.61 464.86,607.64 466.62,608.66 468.37,609.67 470.13,610.67 471.88,611.66 473.63,612.64 475.39,613.61 477.14,614.57 478.90,615.53 480.65,616.47 482.40,617.40 484.16,618.33 485.91,619.24 487.67,620.15 489.42,621.04 491.17,621.93 492.93,622.81 494.68,623.69 496.44,624.55 498.19,625.40 499.94,626.25 501.70,627.09 503.45,627.92 505.21,628.74 506.96,629.56 508.71,630.36 510.47,631.16 512.22,631.95 513.98,632.74 515.73,633.51 517.48,634.28 519.24,635.04 520.99,635.80 522.75,636.54 524.50,637.28 526.25,638.02 528.01,638.74 529.76,639.46 531.52,640.17 533.27,640.88 535.02,641.58 536.78,642.27 538.53,642.95 540.29,643.63 542.04,644.30 543.79,644.97 545.55,645.63 547.30,646.28 549.06,646.92 550.81,647.56 552.56,648.20 554.32,648.82 556.07,649.44 557.83,650.05 559.58,650.66 561.33,651.26 563.09,651.85 564.84,652.44 566.60,653.02 568.35,653.60 570.10,654.17 571.86,654.73 573.61,655.29 575.37,655.84 577.12,656.38 578.87,656.92 580.63,657.46 582.38,657.98 584.14,658.50 585.89,659.02 587.64,659.53 589.40,660.03 591.15,660.53 592.91,661.02 594.66,661.51 596.41,661.99 598.17,662.47 599.92,662.94 601.68,663.41 603.43,663.86 605.18,664.32 606.94,664.77 608.69,665.21 610.45,665.65 612.20,666.09 613.95,666.51 615.71,666.94 617.46,667.36 619.22,667.77 620.97,668.18 622.72,668.58 624.48,668.98 626.23,669.38 627.99,669.76 629.74,670.15 631.49,670.53 633.25,670.90 635.00,671.28 636.76,671.64 638.51,672.00 640.26,672.36 642.02,672.72 643.77,673.07 645.53,673.41 647.28,673.75 649.03,674.09 650.79,674.42 652.54,674.75 654.30,675.08 656.05,675.40 657.80,675.72 659.56,676.04 661.31,676.35 663.07,676.66 664.82,676.97 666.57,677.27 668.33,677.57 670.08,677.86 671.84,678.16 673.59,678.45 675.34,678.73 677.10,679.02 678.85,679.30 680.61,679.58 682.36,679.85 684.11,680.12 685.87,680.39 687.62,680.66 689.38,680.92 691.13,681.18 692.88,681.44 694.64,681.70 696.39,681.95 698.15,682.20 699.90,682.45 701.65,682.70 703.41,682.94 705.16,683.18 706.92,683.42 708.67,683.66 710.42,683.89 712.18,684.12 713.93,684.35 715.69,684.58 717.44,684.80 719.19,685.03 720.95,685.25 722.70,685.47 724.46,685.68 726.21,685.90 727.96,686.11 729.72,686.32 731.47,686.53 733.23,686.73 734.98,686.94 736.73,687.14 738.49,687.34 740.24,687.54 742.00,687.74 743.75,687.93 745.50,688.12 747.26,688.31 749.01,688.50 750.77,688.69 752.52,688.87 754.27,689.06 756.03,689.24 757.78,689.42 759.54,689.60 761.29,689.77 763.04,689.95 764.80,690.12 766.55,690.29 768.31,690.46 770.06,690.62 771.81,690.79 773.57,690.95 775.32,691.11 777.08,691.27 778.83,691.43 780.58,691.59 782.34,691.74 784.09,691.90 785.85,692.05 787.60,692.20 789.35,692.35 791.11,692.49 792.86,692.64 794.62,692.78 796.37,692.92 798.12,693.06 799.88,693.20 801.63,693.34 803.39,693.47 805.14,693.60 806.89,693.74 808.65,693.87 810.40,694.00 812.16,694.12 813.91,694.25 815.66,694.37 817.42,694.49 819.17,694.62 820.93,694.73 822.68,694.85 824.43,694.97 826.19,695.08 827.94,695.20 829.70,695.31 831.45,695.42 833.20,695.53 834.96,695.64 836.71,695.74 838.47,695.85 840.22,695.95 841.97,696.05 843.73,696.16 845.48,696.25 847.24,696.35 848.99,696.45 850.74,696.54 852.50,696.64 854.25,696.73 856.01,696.82 857.76,696.91 859.51,697.00 861.27,697.09 863.02,697.18 864.78,697.27 866.53,697.36 868.28,697.44 870.04,697.53 871.79,697.61 873.55,697.70 875.30,697.78 877.05,697.87 878.81,697.95 880.56,698.03 882.32,698.11 884.07,698.20 885.82,698.28 887.58,698.36 889.33,698.44 891.09,698.52 892.84,698.60 894.59,698.68 896.35,698.76 898.10,698.84 899.86,698.92 901.61,698.99 903.36,699.07 905.12,699.15 906.87,699.22 908.63,699.30 910.38,699.37 912.13,699.44 913.89,699.52 915.64,699.59 917.40,699.66 919.15,699.73 920.90,699.80 922.66,699.86 924.41,699.93 926.17,699.99 927.92,700.06 929.67,700.12 931.43,700.18 933.18,700.24 934.94,700.30 936.69,700.36 938.44,700.41 940.20,700.46 941.95,700.52 943.71,700.57 945.46,700.62 947.21,700.66 948.97,700.71 950.72,700.75 952.48,700.80 954.23,700.84 955.98,700.88 957.74,700.92 959.49,700.95 961.25,700.99 963.00,701.00" fill="none" stroke="#00ff00" stroke-width="6" stroke-dasharray="4.5 3.55" stroke-linecap="butt" stroke-linejoin="round"/>
<rect x="340.7" y="338.8" width="204.3" height="74.4" fill="#ff0000" stroke="#000" stroke-width="2"/>
<text x="353.3" y="389.5" font-family="Liberation Serif" font-weight="bold" font-size="48.5" fill="#000">Increase</text>
<line x1="205" y1="605" x2="426" y2="438.5" stroke="#000" stroke-width="2"/>
<path d="M440.2,428.6 L413.2,436.9 L424.6,439.6 L423.8,452.4 Z" fill="#000" stroke="#000" stroke-width="1.6" stroke-linejoin="round"/>
<rect x="744.7" y="22.8" width="204.3" height="163.2" fill="#fff" stroke="#000" stroke-width="5.5"/>
<line x1="752.6" y1="46" x2="833" y2="46" stroke="#ff0000" stroke-width="6" stroke-dasharray="4.5 3.55"/>
<line x1="752.6" y1="85" x2="834" y2="85" stroke="#ffff00" stroke-width="6" stroke-dasharray="16.6 3.7 8.6 3.6"/>
<line x1="752.6" y1="124.2" x2="834" y2="124.2" stroke="#ff00ff" stroke-width="6" stroke-dasharray="16.6 15.8"/>
<line x1="752.6" y1="163.1" x2="833" y2="163.1" stroke="#00ff00" stroke-width="6" stroke-dasharray="4.5 3.55"/>
<text x="839.55" y="56.4" font-family="Liberation Serif" font-weight="bold" font-size="32" fill="#000">Rd=0.1</text>
<text x="839.55" y="95.4" font-family="Liberation Serif" font-weight="bold" font-size="32" fill="#000">Rd=0.2</text>
<text x="839.55" y="134.6" font-family="Liberation Serif" font-weight="bold" font-size="32" fill="#000">Rd=0.3</text>
<text x="839.55" y="173.5" font-family="Liberation Serif" font-weight="bold" font-size="32" fill="#000">Rd=0.4</text>
</svg>
</body></html>
